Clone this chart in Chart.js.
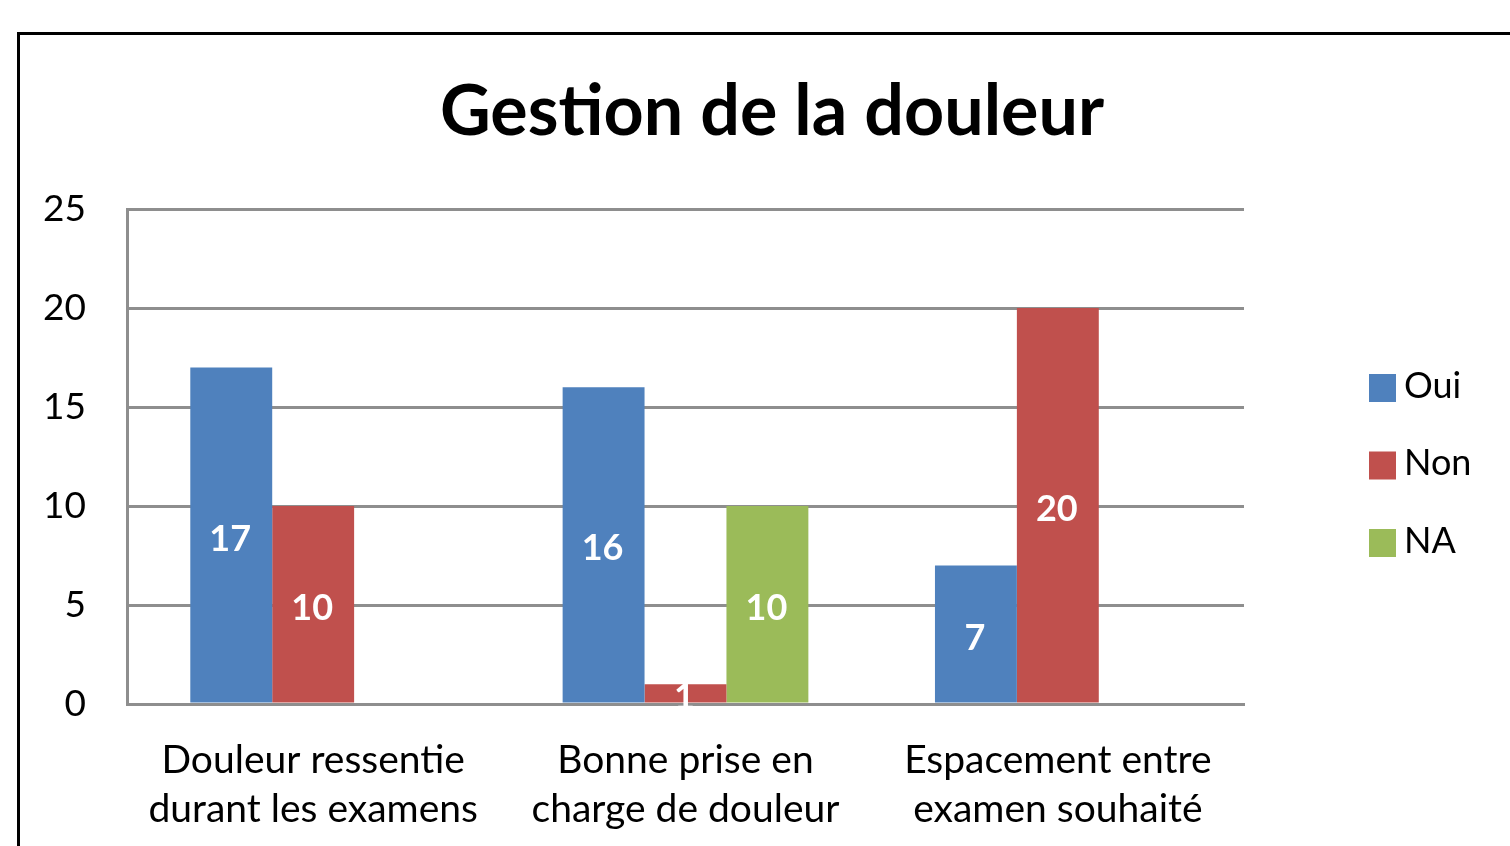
<!DOCTYPE html>
<html>
<head>
<meta charset="utf-8">
<script src="https://cdn.jsdelivr.net/npm/chart.js@4.4.0/dist/chart.umd.min.js"></script>
<style>
  html, body { margin: 0; padding: 0; background: #fff; }
  #wrap { position: relative; width: 1510px; height: 846px; }
</style>
</head>
<body>
<div id="wrap"><canvas id="chart" width="1510" height="846"></canvas></div>
<script>
// données
const titleText = "Gestion de la douleur";
const categories = [
  ["Douleur ressentie", "durant les examens"],
  ["Bonne prise en", "charge de douleur"],
  ["Espacement entre", "examen souhaité"],
];
const seriesNames = ["Oui", "Non", "NA"];
const ouiValues = [17, 16, 7];
const nonValues = [10, 1, 20];
const naValues = [null, 10, null];
const yMax = 25;
const yStep = 5;

const colors = ["#4f81bd", "#c0504d", "#9bbb59"];
const gridGrey = "#8e8e8e";
const FONT = "Lato, 'Open Sans', sans-serif";

// cadre noir (haut + gauche) et titre
const framePlugin = {
  id: "frame",
  beforeDraw(chart) {
    const ctx = chart.ctx;
    ctx.save();
    ctx.fillStyle = "#fff";
    ctx.fillRect(0, 0, chart.width, chart.height);
    ctx.strokeStyle = "#000";
    ctx.lineWidth = 3;
    ctx.beginPath();
    ctx.moveTo(18.5, chart.height);
    ctx.lineTo(18.5, 33.5);
    ctx.lineTo(chart.width, 33.5);
    ctx.stroke();

    ctx.fillStyle = "#000";
    ctx.font = "bold 70px " + FONT;
    ctx.textAlign = "center";
    ctx.textBaseline = "middle";
    ctx.fillText(titleText, 772, 112);
    ctx.restore();
  },
};

// étiquettes de valeur au centre des barres
const valueLabels = {
  id: "valueLabels",
  afterDatasetsDraw(chart) {
    const ctx = chart.ctx;
    ctx.save();
    ctx.fillStyle = "#fff";
    ctx.font = "bold 36px " + FONT;
    ctx.textAlign = "center";
    ctx.textBaseline = "middle";
    chart.data.datasets.forEach((ds, i) => {
      const meta = chart.getDatasetMeta(i);
      meta.data.forEach((bar, j) => {
        const v = ds.data[j];
        if (v === null || v === 0) return;
        ctx.fillText(String(v), bar.x - 1, (bar.y + bar.base) / 2 + 4);
      });
    });
    ctx.restore();
  },
};

// légende à droite
const sideLegend = {
  id: "sideLegend",
  afterDraw(chart) {
    const ctx = chart.ctx;
    ctx.save();
    ctx.font = "36px " + FONT;
    ctx.textBaseline = "middle";
    ctx.textAlign = "left";
    chart.data.datasets.forEach((ds, i) => {
      const cy = 388 + i * 77.5;
      ctx.fillStyle = ds.backgroundColor;
      ctx.fillRect(1369, cy - 14, 27, 28);
      ctx.fillStyle = "#000";
      ctx.fillText(ds.label, 1404, cy - 2);
    });
    ctx.restore();
  },
};

const seriesData = [ouiValues, nonValues, naValues];

new Chart(document.getElementById("chart").getContext("2d"), {
  type: "bar",
  data: {
    labels: categories,
    datasets: seriesNames.map((name, i) => ({
      label: name,
      data: seriesData[i],
      backgroundColor: colors[i],
      borderWidth: 0,
    })),
  },
  options: {
    responsive: false,
    animation: false,
    devicePixelRatio: 1,
    layout: { padding: { top: 209, left: 0, right: 266, bottom: 0 } },
    datasets: { bar: { categoryPercentage: 0.66, barPercentage: 1 } },
    plugins: {
      legend: { display: false },
      title: { display: false },
      tooltip: { enabled: false },
    },
    scales: {
      x: {
        grid: { display: false },
        border: { display: true, color: gridGrey, width: 3 },
        ticks: {
          color: "#000",
          padding: 23,
          maxRotation: 0,
          autoSkip: false,
          font: { family: FONT, size: 39, lineHeight: 1.28 },
        },
        afterFit(scale) {
          scale.height = 142;
        },
      },
      y: {
        min: 0,
        max: yMax,
        ticks: {
          stepSize: yStep,
          color: "#000",
          padding: 41,
          font: { family: FONT, size: 37 },
        },
        grid: { color: gridGrey, lineWidth: 3, drawTicks: false },
        border: { display: true, color: gridGrey, width: 3 },
        afterFit(scale) {
          scale.width = 127;
        },
      },
    },
  },
  plugins: [framePlugin, valueLabels, sideLegend],
});
</script>
</body>
</html>
